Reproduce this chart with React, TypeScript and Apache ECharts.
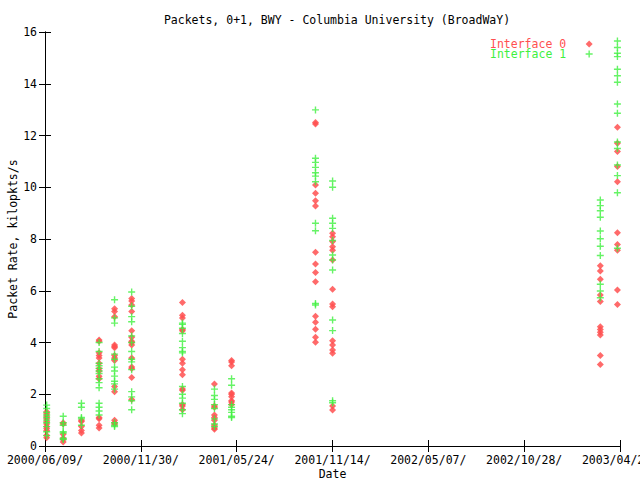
import React, { useEffect, useRef } from "react";
import * as echarts from "echarts";

const startDate = "2000-06-09";
const tickLabels = ["2000/06/09/", "2000/11/30/", "2001/05/24/", "2001/11/14/", "2002/05/07/", "2002/10/28/", "2003/04/20/"];
const sampleDates = [
  "2000-06-12", "2000-07-12", "2000-08-14", "2000-09-15", "2000-10-13", "2000-11-13",
  "2001-02-13", "2001-04-12", "2001-05-13", "2001-10-12", "2001-11-12", "2003-03-12", "2003-04-12",
];
const iface0Values = [
  [0.32, 0.42, 0.6, 0.68, 0.75, 0.85, 0.95, 1.05, 1.15, 1.25, 1.32],
  [0.15, 0.25, 0.3, 0.45, 0.85, 0.9],
  [0.5, 0.6, 0.75, 0.95, 1.0],
  [0.7, 0.8, 1.05, 1.1, 2.6, 2.7, 2.9, 3.0, 3.2, 3.4, 3.5, 3.6, 4.05, 4.1],
  [0.85, 0.9, 1.0, 2.1, 2.3, 3.3, 3.4, 3.5, 3.8, 3.85, 3.9, 5.0, 5.2, 5.3],
  [1.8, 2.65, 3.0, 3.05, 3.4, 3.9, 4.0, 4.05, 4.2, 4.45, 5.2, 5.45, 5.6, 5.7],
  [1.4, 1.55, 1.6, 2.15, 2.2, 2.75, 2.95, 3.2, 3.35, 4.45, 4.5, 4.95, 5.05, 5.55],
  [0.65, 0.7, 0.8, 1.0, 1.1, 1.2, 1.5, 1.55, 2.4],
  [1.6, 1.7, 1.75, 1.9, 2.0, 2.05, 3.1, 3.25, 3.3],
  [12.44, 12.5, 10.09, 9.77, 9.48, 9.28, 7.49, 7.03, 6.71, 6.35, 5.01, 4.78, 4.51, 4.2, 4.01],
  [8.22, 8.09, 7.9, 7.7, 7.57, 7.19, 6.06, 5.49, 5.38, 4.07, 3.9, 3.71, 3.58, 1.55, 1.39],
  [6.97, 6.76, 6.44, 5.84, 5.58, 4.61, 4.5, 4.4, 4.29, 3.5, 3.15],
  [12.32, 11.7, 11.38, 10.8, 10.21, 8.24, 7.79, 7.57, 6.03, 5.47],
];
const iface1Values = [
  [0.4, 0.55, 0.75, 0.9, 1.0, 1.1, 1.2, 1.3, 1.45, 1.58],
  [0.25, 0.3, 0.5, 0.55, 0.8, 0.9, 1.15],
  [0.8, 1.05, 1.1, 1.5, 1.65],
  [1.2, 1.35, 1.5, 1.65, 2.25, 2.45, 2.6, 2.8, 2.9, 3.0, 3.1, 3.2, 3.65, 4.0],
  [0.75, 0.8, 0.9, 2.2, 2.4, 2.5, 2.7, 2.9, 3.05, 3.35, 3.55, 4.75, 4.95, 5.65],
  [1.4, 1.75, 1.9, 2.1, 2.95, 3.25, 3.35, 3.65, 4.0, 4.25, 4.8, 5.0, 5.4, 5.95],
  [1.25, 1.4, 1.65, 1.85, 2.0, 2.3, 3.6, 3.65, 3.8, 4.05, 4.35, 4.55, 4.7, 4.75],
  [0.75, 0.85, 1.05, 1.45, 1.6, 1.8, 1.95, 2.2],
  [1.1, 1.15, 1.3, 1.4, 1.5, 1.6, 2.35, 2.6],
  [12.99, 11.12, 10.96, 10.77, 10.56, 10.43, 10.21, 8.61, 8.32, 5.51, 5.45],
  [10.24, 10.0, 8.8, 8.61, 8.41, 7.94, 7.38, 7.19, 6.8, 4.87, 4.46, 1.75, 1.67],
  [9.51, 9.29, 9.09, 8.84, 8.31, 8.01, 7.72, 7.36, 6.25, 5.99, 5.73],
  [15.65, 15.4, 15.18, 15.05, 14.56, 14.31, 14.06, 13.22, 12.86, 11.75, 11.5, 10.86, 10.45, 9.79, 7.64],
];

const RED = "#ff5050";
const GREEN = "#40f040";
const FONT = "DejaVu Sans Mono";
const FS = 11.5;
const DAY = 86400000;
const TICK_DAYS = 15000000 / 86400;
const PLUS = "path://M2.8,0h1.4v2.8h2.8v1.4h-2.8v2.8h-1.4v-2.8h-2.8v-1.4h2.8z";

function buildPoints(values: number[][]) {
  const t0 = Date.parse(startDate);
  const pts: number[][] = [];
  values.forEach((col, i) => {
    const d = (Date.parse(sampleDates[i]) - t0) / DAY;
    col.forEach((v) => pts.push([d, v]));
  });
  return pts;
}

export default function App() {
  const ref = useRef<HTMLDivElement>(null);
  useEffect(() => {
    const chart = echarts.init(ref.current!, null, { renderer: "svg" });
    const txt = { fontFamily: FONT, fontSize: FS, color: "#000" };
    const axisLine = { show: true, lineStyle: { color: "#000", width: 1 } };
    const tickStyle = { show: true, inside: true, length: 6, lineStyle: { color: "#000" } };
    chart.setOption({
      animation: false,
      backgroundColor: "#fff",
      title: {
        text: "Packets, 0+1, BWY - Columbia University (BroadWaY)",
        left: 332, top: 9, textAlign: "center",
        textStyle: { ...txt, fontWeight: "normal" },
      },
      legend: {
        orient: "vertical", left: 485, top: 33, align: "right",
        itemWidth: 7, itemHeight: 7, itemGap: -2,
        textStyle: { fontFamily: FONT, fontSize: FS, lineHeight: 8, padding: [0, 14.5, 0, 0] },
        data: [
          { name: "Interface 0", icon: "diamond", textStyle: { color: RED } },
          { name: "Interface 1", icon: PLUS, textStyle: { color: GREEN } },
        ],
      },
      grid: { left: 45, right: 20, top: 32, bottom: 34, containLabel: false, outerBoundsMode: "none" },
      xAxis: [
        {
          type: "value", min: 0, max: TICK_DAYS * 6, interval: TICK_DAYS,
          name: "Date", nameLocation: "middle", nameGap: 22, nameMoveOverlap: false, nameTextStyle: txt,
          axisLine, axisTick: tickStyle, splitLine: { show: false },
          axisLabel: {
            ...txt, margin: 8, showMinLabel: true, showMaxLabel: true, hideOverlap: false,
            formatter: (v: number) => tickLabels[Math.round(v / TICK_DAYS)] ?? "",
          },
        },
        {
          type: "value", position: "top", min: 0, max: TICK_DAYS * 6, interval: TICK_DAYS,
          axisLine, axisTick: tickStyle, axisLabel: { show: false }, splitLine: { show: false },
        },
      ],
      yAxis: [
        {
          type: "value", min: 0, max: 16, interval: 2,
          name: "Packet Rate, kilopkts/s", nameLocation: "middle", nameGap: 26, nameMoveOverlap: false, nameTextStyle: txt,
          axisLine, axisTick: tickStyle, splitLine: { show: false },
          axisLabel: { ...txt, margin: 8 },
        },
        {
          type: "value", position: "right", min: 0, max: 16, interval: 2,
          axisLine, axisTick: tickStyle, axisLabel: { show: false }, splitLine: { show: false },
        },
      ],
      series: [
        {
          name: "Interface 0", type: "scatter", symbol: "diamond", symbolSize: 7,
          itemStyle: { color: RED, opacity: 0.85 },
          data: buildPoints(iface0Values),
        },
        {
          name: "Interface 1", type: "scatter", symbol: PLUS, symbolSize: 7,
          itemStyle: { color: GREEN },
          data: buildPoints(iface1Values),
        },
      ],
    });
    return () => chart.dispose();
  }, []);
  return <div ref={ref} style={{ position: "absolute", left: 0, top: 0, width: 640, height: 480 }} />;
}
